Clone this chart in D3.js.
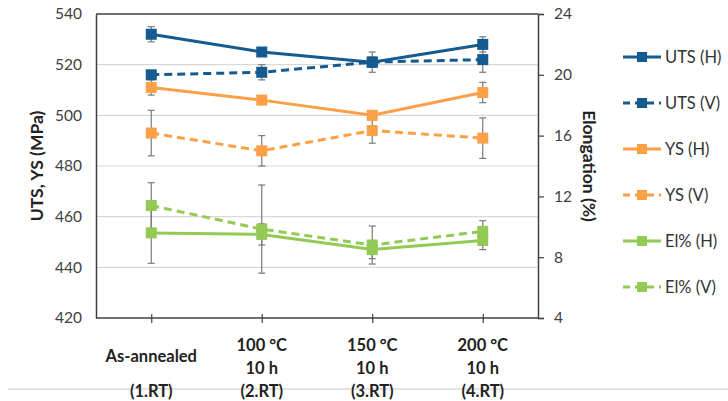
<!DOCTYPE html>
<html>
<head>
<meta charset="utf-8">
<script src="https://cdn.jsdelivr.net/npm/d3@7"></script>
<style>
body{margin:0;background:#fff;}
svg{font-family:Lato,"Open Sans",sans-serif;}
</style>
</head>
<body>
<svg id="chart" width="728" height="401"></svg>
<script>
// categories (label lines)
var categories=["As-annealed","100 °C","150 °C","200 °C"];
var catLines=[["As-annealed","(1.RT)"],["100 °C","10 h","(2.RT)"],["150 °C","10 h","(3.RT)"],["200 °C","10 h","(4.RT)"]];

// MPa series (left axis)
var utsH=[532,525,521,528];
var utsHErr=[3,1,4,3];
var utsV=[516,517,521,522];
var utsVErr=[1,3,2,5];
var ysH=[511,506,500,509];
var ysHErr=[3,1,1,4];
var ysV=[493,486,494,491];
var ysVErr=[9,6,5,8];

// elongation series (right axis)
var elH=[9.6,9.5,8.5,9.1];
var elHErr=[2.0,0.7,0.6,0.6];
var elV=[11.4,9.85,8.8,9.7];
var elVErr=[1.5,2.9,1.25,0.7];

var leftTicks=[420,440,460,480,500,520,540];
var rightTicks=[4,8,12,16,20,24];

var blue="#155a90", orange="#fca048", green="#93c955";

var series=[
  {name:"UTS (H)",vals:utsH,err:utsHErr,color:blue,dash:null,axis:"l"},
  {name:"UTS (V)",vals:utsV,err:utsVErr,color:blue,dash:"8,5",axis:"l"},
  {name:"YS (H)",vals:ysH,err:ysHErr,color:orange,dash:null,axis:"l"},
  {name:"YS (V)",vals:ysV,err:ysVErr,color:orange,dash:"8,5",axis:"l"},
  {name:"El% (H)",vals:elH,err:elHErr,color:green,dash:null,axis:"r"},
  {name:"El% (V)",vals:elV,err:elVErr,color:green,dash:"8,5",axis:"r"}
];

var svg=d3.select("#chart");
var pLeft=96,pRight=538,pTop=14,pBottom=318;

var x=d3.scalePoint().domain(categories).range([pLeft,pRight]).padding(0.5);
var yL=d3.scaleLinear().domain([420,540]).range([pBottom,pTop]);
var yR=d3.scaleLinear().domain([4,24]).range([pBottom,pTop]);

// light rule behind bottom labels
svg.append("line").attr("x1",8).attr("x2",728).attr("y1",389).attr("y2",389)
  .attr("stroke","#c8c8c8").attr("stroke-width",1);

// gridlines
svg.append("g").selectAll("line").data(leftTicks.slice(1,-1)).enter().append("line")
  .attr("x1",pLeft).attr("x2",pRight)
  .attr("y1",function(d){return yL(d);}).attr("y2",function(d){return yL(d);})
  .attr("stroke","#d9d9d9").attr("stroke-width",1.2);

// left axis
var gl=svg.append("g").attr("transform","translate("+pLeft+",0)")
  .call(d3.axisLeft(yL).tickValues(leftTicks).tickSize(0).tickPadding(14));
gl.select(".domain").attr("stroke","#404040").attr("stroke-width",1.5);
gl.selectAll("text").attr("font-size",15.5).attr("fill","#404040").attr("font-family","Lato");

// right axis
var gr=svg.append("g").attr("transform","translate("+pRight+",0)")
  .call(d3.axisRight(yR).tickValues(rightTicks).tickSize(6).tickPadding(10));
gr.select(".domain").attr("stroke","#404040").attr("stroke-width",1.5);
gr.selectAll(".tick line").attr("stroke","#404040").attr("stroke-width",1.2);
gr.selectAll("text").attr("font-size",15.5).attr("fill","#404040").attr("font-family","Lato");

// top border
svg.append("line").attr("x1",pLeft).attr("x2",pRight).attr("y1",pTop).attr("y2",pTop)
  .attr("stroke","#404040").attr("stroke-width",1.5);

// bottom axis
var gb=svg.append("g").attr("transform","translate(0,"+pBottom+")")
  .call(d3.axisBottom(x).tickSize(5).tickFormat(""));
gb.select(".domain").attr("d","M"+pLeft+",0H"+pRight).attr("stroke","#404040").attr("stroke-width",1.5);
gb.selectAll(".tick line").attr("y1",-4).attr("y2",5).attr("stroke","#404040").attr("stroke-width",1.2);

// category labels
catLines.forEach(function(lines,i){
  var ys=lines.length==2?[356,391]:[345,368,391];
  lines.forEach(function(t,j){
    svg.append("text").attr("x",x(categories[i])).attr("y",ys[j])
      .attr("text-anchor","middle").attr("dominant-baseline","central")
      .attr("font-size",16.5).attr("font-weight","bold").attr("fill","#222").text(t);
  });
});

// axis titles
svg.append("text").attr("transform","translate(36,166) rotate(-90)")
  .attr("text-anchor","middle").attr("dominant-baseline","central")
  .attr("font-size",17.5).attr("font-weight","bold").attr("fill","#222").text("UTS, YS (MPa)");
svg.append("text").attr("transform","translate(589,166) rotate(90)")
  .attr("text-anchor","middle").attr("dominant-baseline","central")
  .attr("font-size",17.5).attr("font-weight","bold").attr("fill","#222").text("Elongation (%)");

var line=function(s){
  var yy=s.axis=="l"?yL:yR;
  return d3.line().x(function(d,i){return x(categories[i]);}).y(function(d){return yy(d);})(s.vals);
};

series.forEach(function(s){
  svg.append("path").attr("d",line(s)).attr("fill","none")
    .attr("stroke",s.color).attr("stroke-width",3).attr("stroke-dasharray",s.dash);
});

series.forEach(function(s){
  var yy=s.axis=="l"?yL:yR;
  var g=svg.append("g").attr("stroke","#7a7a7a").attr("stroke-width",1.2);
  s.vals.forEach(function(v,i){
    var cx=x(categories[i]);
    var y1=yy(v+s.err[i]), y2=yy(v-s.err[i]);
    g.append("line").attr("x1",cx).attr("x2",cx).attr("y1",y1).attr("y2",y2);
    g.append("line").attr("x1",cx-3.5).attr("x2",cx+3.5).attr("y1",y1).attr("y2",y1);
    g.append("line").attr("x1",cx-3.5).attr("x2",cx+3.5).attr("y1",y2).attr("y2",y2);
  });
});

series.forEach(function(s){
  var yy=s.axis=="l"?yL:yR;
  svg.append("g").selectAll("rect").data(s.vals).enter().append("rect")
    .attr("x",function(d,i){return x(categories[i])-5.5;})
    .attr("y",function(d){return yy(d)-5.5;})
    .attr("width",11).attr("height",11).attr("fill",s.color);
});

// legend
var leg=svg.append("g");
series.forEach(function(s,i){
  var ly=57+i*46;
  leg.append("line").attr("x1",623).attr("x2",661).attr("y1",ly).attr("y2",ly)
    .attr("stroke",s.color).attr("stroke-width",3).attr("stroke-dasharray",s.dash?"7,5":null);
  leg.append("rect").attr("x",637).attr("y",ly-5).attr("width",10).attr("height",10).attr("fill",s.color);
  leg.append("text").attr("x",665).attr("y",ly).attr("dominant-baseline","central")
    .attr("font-size",16.5).attr("fill","#333").text(s.name);
});
</script>
</body>
</html>
